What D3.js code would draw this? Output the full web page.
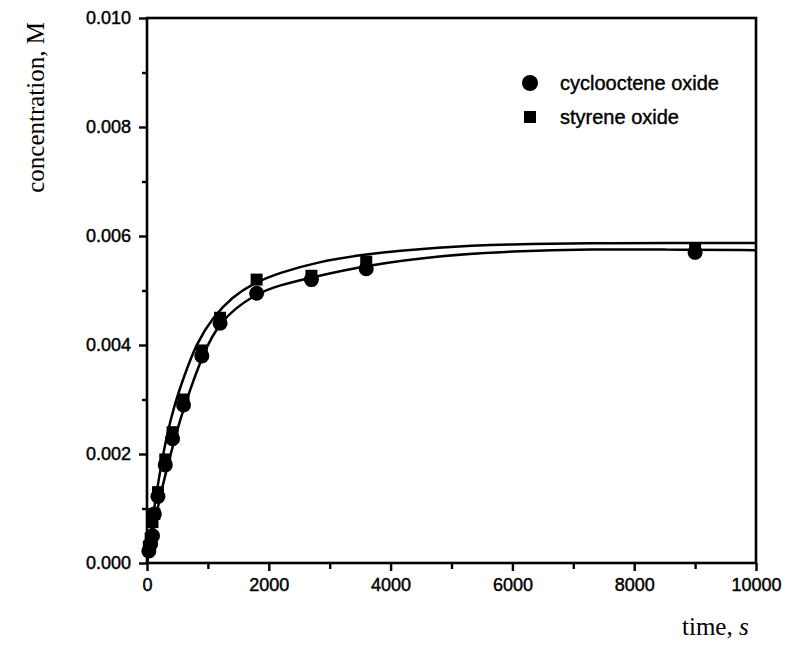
<!DOCTYPE html>
<html>
<head>
<meta charset="utf-8">
<script src="https://cdn.jsdelivr.net/npm/d3@7"></script>
<style>
  html, body { margin: 0; padding: 0; background: #fff; }
  svg { display: block; }
  .tick text { font-family: "Liberation Sans", Arial, Helvetica, sans-serif; font-size: 18px; fill: #000; stroke: #000; stroke-width: 0.45px; }
  .tick line { stroke: #000; stroke-width: 2.4px; }
</style>
</head>
<body>
<svg id="chart" width="793" height="651"></svg>
<script>
// ---- data ----
const xTicks = [0, 2000, 4000, 6000, 8000, 10000];
const xMinorTicks = [1000, 3000, 5000, 7000, 9000];
const yTicks = [0.000, 0.002, 0.004, 0.006, 0.008, 0.010];
const yMinorTicks = [0.001, 0.003, 0.005, 0.007, 0.009];

const seriesNames = ["cyclooctene oxide", "styrene oxide"];

// measured points: cyclooctene oxide (circles)
const cycloTime = [30, 60, 90, 120, 180, 300, 420, 600, 900, 1200, 1800, 2700, 3600, 9000];
const cycloConc = [0.00022, 0.00035, 0.0005, 0.0009, 0.00122, 0.0018, 0.00228, 0.0029, 0.0038, 0.0044, 0.00495, 0.0052, 0.0054, 0.0057];

// measured points: styrene oxide (squares)
const styTime = [30, 60, 90, 120, 180, 300, 420, 600, 900, 1200, 1800, 2700, 3600, 9000];
const styConc = [0.0003, 0.00045, 0.00075, 0.0009, 0.0013, 0.0019, 0.0024, 0.003, 0.0039, 0.0045, 0.0052, 0.00527, 0.00553, 0.00578];

// fitted curves
const upperCurveTime = [0, 50, 100, 200, 320, 450, 600, 810, 1090, 1400, 1740, 2180, 2800, 3500, 4800, 6000, 7300, 8500, 10000];
const upperCurveConc = [0, 0.00045, 0.00087, 0.0016, 0.00232, 0.0029, 0.0034, 0.00403, 0.00452, 0.00488, 0.00513, 0.00533, 0.00552, 0.00566, 0.0058, 0.00585, 0.00587, 0.00587, 0.00587];
const lowerCurveTime = [0, 50, 100, 200, 300, 460, 600, 920, 1200, 1740, 2180, 2700, 3600, 4800, 6000, 7300, 8500, 10000];
const lowerCurveConc = [0, 0.0003, 0.0006, 0.00114, 0.00162, 0.0023, 0.00284, 0.00385, 0.00445, 0.00492, 0.0051, 0.00524, 0.00546, 0.00564, 0.00572, 0.00576, 0.00575, 0.00574];

// ---- drawing ----
const svg = d3.select("#chart");
const x = d3.scaleLinear().domain([0, 10000]).range([147, 756]);
const y = d3.scaleLinear().domain([0, 0.010]).range([563, 18]);

// minor ticks
svg.append("g")
  .attr("transform", `translate(0,${y(0)})`)
  .call(d3.axisBottom(x).tickValues(xMinorTicks).tickSize(6).tickFormat(""))
  .call(g => g.select(".domain").remove());
svg.append("g")
  .attr("transform", `translate(${x(0)},0)`)
  .call(d3.axisLeft(y).tickValues(yMinorTicks).tickSize(5).tickFormat(""))
  .call(g => g.select(".domain").remove());

// major ticks
svg.append("g")
  .attr("transform", `translate(0,${y(0)})`)
  .call(d3.axisBottom(x).tickValues(xTicks).tickSize(8).tickPadding(7).tickFormat(d3.format("d")))
  .call(g => g.select(".domain").remove());
svg.append("g")
  .attr("transform", `translate(${x(0)},0)`)
  .call(d3.axisLeft(y).tickValues(yTicks).tickSize(8).tickPadding(8).tickFormat(d3.format(".3f")))
  .call(g => g.select(".domain").remove());

// frame
svg.append("rect")
  .attr("x", x(0)).attr("y", y(0.010))
  .attr("width", x(10000) - x(0)).attr("height", y(0) - y(0.010))
  .attr("fill", "none").attr("stroke", "#000").attr("stroke-width", 2.6);

// curves
const line = d3.line().x(d => x(d[0])).y(d => y(d[1])).curve(d3.curveBasis);
const upper = upperCurveTime.map((t, i) => [t, upperCurveConc[i]]);
const lower = lowerCurveTime.map((t, i) => [t, lowerCurveConc[i]]);
[upper, lower].forEach(data => {
  svg.append("path").datum(data)
    .attr("d", line)
    .attr("fill", "none").attr("stroke", "#000").attr("stroke-width", 2.5);
});

// points
const sq = 12;
svg.append("g").selectAll("rect")
  .data(styTime.map((t, i) => [t, styConc[i]]))
  .join("rect")
  .attr("x", d => x(d[0]) - sq / 2).attr("y", d => y(d[1]) - sq / 2)
  .attr("width", sq).attr("height", sq).attr("fill", "#000");
svg.append("g").selectAll("circle")
  .data(cycloTime.map((t, i) => [t, cycloConc[i]]))
  .join("circle")
  .attr("cx", d => x(d[0])).attr("cy", d => y(d[1])).attr("r", 7.5).attr("fill", "#000");

// legend
const legendFont = '"Liberation Sans", Arial, Helvetica, sans-serif';
svg.append("circle").attr("cx", 530).attr("cy", 83).attr("r", 8).attr("fill", "#000");
svg.append("text").attr("x", 560).attr("y", 90).text(seriesNames[0])
  .attr("font-family", legendFont).attr("font-size", 20).attr("stroke", "#000").attr("stroke-width", 0.4);
svg.append("rect").attr("x", 530 - 6).attr("y", 117 - 6).attr("width", 12).attr("height", 12).attr("fill", "#000");
svg.append("text").attr("x", 560).attr("y", 124).text(seriesNames[1])
  .attr("font-family", legendFont).attr("font-size", 20).attr("stroke", "#000").attr("stroke-width", 0.4);

// axis titles
const serif = '"Liberation Serif", "Times New Roman", Times, serif';
svg.append("text")
  .attr("transform", "translate(44,22) rotate(-90)")
  .attr("text-anchor", "end")
  .attr("font-family", serif).attr("font-size", 25)
  .text("concentration, M");
const xt = svg.append("text").attr("x", 682).attr("y", 635)
  .attr("font-family", serif).attr("font-size", 25);
xt.append("tspan").text("time, ");
xt.append("tspan").attr("font-style", "italic").text("s");
</script>
</body>
</html>
